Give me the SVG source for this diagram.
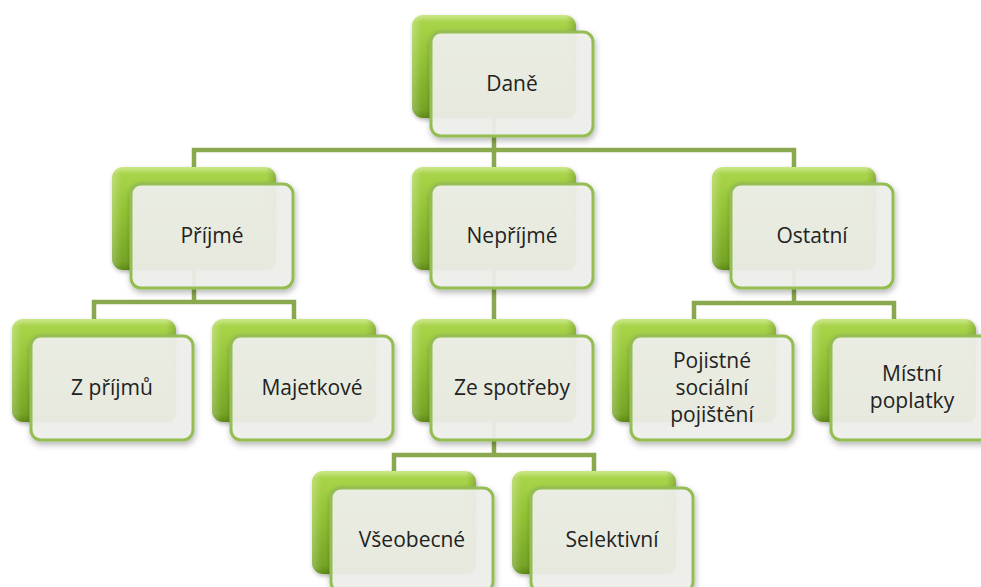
<svg xmlns="http://www.w3.org/2000/svg" width="981" height="587" viewBox="0 0 981 587">
<defs>
<linearGradient id="gBack" x1="0" y1="0" x2="0" y2="1">
<stop offset="0" stop-color="#cbe88a"/>
<stop offset="0.07" stop-color="#a9d44a"/>
<stop offset="0.45" stop-color="#92c234"/>
<stop offset="0.92" stop-color="#76a525"/>
<stop offset="1" stop-color="#5f8a18"/>
</linearGradient>
<linearGradient id="gSide" x1="0" y1="0" x2="1" y2="0">
<stop offset="0" stop-color="#ffffff" stop-opacity="0.25"/>
<stop offset="0.06" stop-color="#ffffff" stop-opacity="0"/>
<stop offset="0.94" stop-color="#000000" stop-opacity="0"/>
<stop offset="1" stop-color="#000000" stop-opacity="0.15"/>
</linearGradient>
<filter id="shB" x="-10%" y="-10%" width="125%" height="130%">
<feDropShadow dx="1" dy="2" stdDeviation="2" flood-color="#000" flood-opacity="0.3"/>
</filter>
<filter id="shF" x="-10%" y="-10%" width="125%" height="130%">
<feDropShadow dx="1" dy="3" stdDeviation="3" flood-color="#000" flood-opacity="0.3"/>
</filter>
<g id="box">
<rect x="0" y="0" width="164" height="103" rx="11" fill="url(#gBack)" filter="url(#shB)"/>
<rect x="0" y="0" width="164" height="103" rx="11" fill="url(#gSide)"/>
<rect x="19" y="17" width="162" height="104" rx="10" fill="#f0f0ec" fill-opacity="0.93" stroke="#94bd52" stroke-width="3" filter="url(#shF)"/>
</g>
</defs>
<style>
.conn{fill:none;stroke:#8aa84e;stroke-width:4.5;stroke-linejoin:miter;stroke-linecap:butt}
text{font-family:"Open Sans","Noto Sans","Liberation Sans",sans-serif;font-size:21px;fill:#222;text-anchor:middle}
</style>
<g id="connectors">
<path class="conn" d="M494 118V150M194 167V150H794V167M494 150V167"/>
<path class="conn" d="M194 270V302M94 319V302H294V319"/>
<path class="conn" d="M494 270V319"/>
<path class="conn" d="M794 270V303M694 319V303H894V319"/>
<path class="conn" d="M494 422V455M394 471V455H594V471"/>
</g>
<g id="n-dane"><use href="#box" x="412" y="15"/><text x="512" y="91">Daně</text></g>
<g id="n-prime"><use href="#box" x="112" y="167"/><text x="212" y="243">Příjmé</text></g>
<g id="n-neprime"><use href="#box" x="412" y="167"/><text x="512" y="243">Nepříjmé</text></g>
<g id="n-ostatni"><use href="#box" x="712" y="167"/><text x="812" y="243">Ostatní</text></g>
<g id="n-zprijmu"><use href="#box" x="12" y="319"/><text x="112" y="395">Z příjmů</text></g>
<g id="n-majetkove"><use href="#box" x="212" y="319"/><text x="312" y="395">Majetkové</text></g>
<g id="n-spotreby"><use href="#box" x="412" y="319"/><text x="512" y="395">Ze spotřeby</text></g>
<g id="n-pojistne"><use href="#box" x="612" y="319"/><text x="712" y="368">Pojistné</text><text x="712" y="395">sociální</text><text x="712" y="422">pojištění</text></g>
<g id="n-mistni"><use href="#box" x="812" y="319"/><text x="912" y="381">Místní</text><text x="912" y="408">poplatky</text></g>
<g id="n-vseobecne"><use href="#box" x="312" y="471"/><text x="412" y="547">Všeobecné</text></g>
<g id="n-selektivni"><use href="#box" x="512" y="471"/><text x="612" y="547">Selektivní</text></g>
</svg>
